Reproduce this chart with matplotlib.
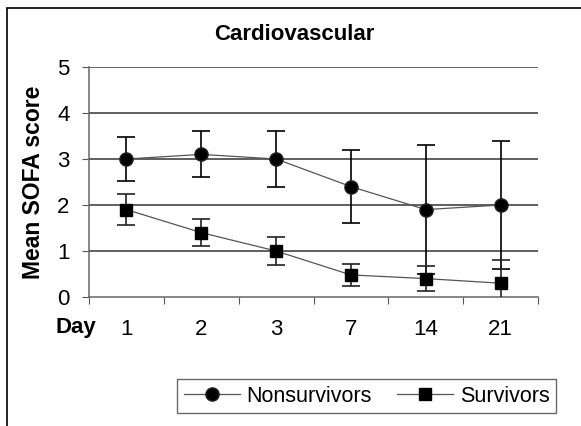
import matplotlib
matplotlib.use('agg')
import matplotlib.pyplot as plt
from matplotlib.patches import Rectangle
import numpy as np

plt.rcParams['font.family'] = ['Liberation Sans', 'DejaVu Sans']

days = ["1", "2", "3", "7", "14", "21"]
nonsurv = [3.0, 3.1, 3.0, 2.4, 1.9, 2.0]
nonsurv_err = [0.48, 0.5, 0.6, 0.8, 1.4, 1.4]
surv = [1.9, 1.4, 1.0, 0.48, 0.4, 0.3]
surv_err = [0.33, 0.3, 0.3, 0.24, 0.27, 0.5]

W, H = 581, 426
fig = plt.figure(figsize=(W/100, H/100), dpi=100)
# outer chart frame (right/bottom edges fall outside the picture)
fig.patches.append(Rectangle((7/W, -0.1), 1.2, 1.1 - 8/H, transform=fig.transFigure,
                             fill=False, edgecolor='black', linewidth=1.2))

ax = fig.add_axes([89/W, 1-297/H, (538-89)/W, (297-67)/H])
x = np.arange(len(days))

ax.errorbar(x, nonsurv, yerr=nonsurv_err, fmt='none', ecolor='black', elinewidth=1.2,
            capsize=6.5, capthick=1.2, zorder=3)
ax.errorbar(x, surv, yerr=surv_err, fmt='none', ecolor='#222222', elinewidth=1.2,
            capsize=6.5, capthick=1.2, zorder=3)
ax.plot(x, nonsurv, color='#555555', linewidth=0.9, marker='o', markersize=9.5,
        markerfacecolor='black', markeredgecolor='#222222', label='Nonsurvivors', zorder=4)
ax.plot(x, surv, color='#555555', linewidth=0.9, marker='s', markersize=9,
        markerfacecolor='black', markeredgecolor='black', label='Survivors', zorder=4)

ax.set_xlim(-0.5, len(days) - 0.5)
ax.set_ylim(0, 5)
ax.set_yticks([0, 1, 2, 3, 4, 5])
for yv in [1, 2, 3, 4, 5]:
    ax.axhline(yv, color='#333333', linewidth=1.1, zorder=1)

ax.set_xticks(np.arange(-0.5, len(days)), labels=[])
ax.set_xticks(x, labels=days, minor=True)
ax.tick_params(axis='x', which='major', direction='out', length=5, color='#555555')
ax.tick_params(axis='x', which='minor', length=0, pad=16, labelsize=16)
ax.tick_params(axis='y', direction='out', length=5, color='#555555', labelsize=16, pad=9)

for s in ['top', 'right']:
    ax.spines[s].set_visible(False)
for s in ['left', 'bottom']:
    ax.spines[s].set_color('#666666')
    ax.spines[s].set_linewidth(1.1)

fig.text(294/W, 1-34/H, "Cardiovascular", ha='center', va='center', fontsize=16, fontweight='bold')
fig.text(34/W, 1-182.5/H, "Mean SOFA score", ha='center', va='center', rotation=90,
         fontsize=16.5, fontweight='bold')
fig.text(76/W, 1-327/H, "Day", ha='center', va='center', fontsize=16, fontweight='bold')

leg = fig.legend(loc='center', bbox_to_anchor=(366.5/W, 1-396/H), ncol=2, fontsize=15.5,
                 frameon=True, fancybox=False, edgecolor='#444444', handlelength=2.6,
                 columnspacing=1.2, handletextpad=0.3, borderpad=0.3)
leg.get_frame().set_linewidth(1.0)

fig.savefig('out.png', dpi=100)
